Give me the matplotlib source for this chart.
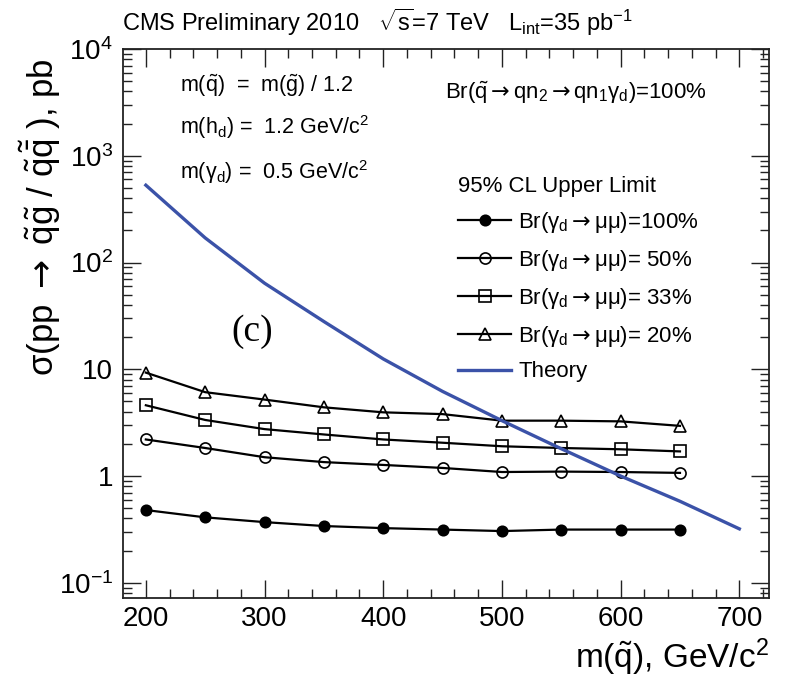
import matplotlib
matplotlib.use("Agg")
import matplotlib.pyplot as plt
from matplotlib.ticker import FixedLocator, MultipleLocator, NullFormatter
import numpy as np

# ---------------- data ----------------
mass = [200, 250, 300, 350, 400, 450, 500, 550, 600, 650]
br100 = [0.48, 0.41, 0.37, 0.34, 0.325, 0.315, 0.305, 0.315, 0.315, 0.315]
br50 = [2.2, 1.83, 1.5, 1.35, 1.27, 1.19, 1.09, 1.1, 1.09, 1.07]
br33 = [4.6, 3.35, 2.75, 2.45, 2.2, 2.05, 1.9, 1.83, 1.78, 1.7]
br20 = [9.3, 6.1, 5.2, 4.4, 3.95, 3.8, 3.3, 3.3, 3.25, 2.95]
theory_mass = [200, 250, 300, 350, 400, 450, 500, 550, 600, 650, 700]
theory_xsec = [530, 170, 64, 28, 12.5, 6.2, 3.3, 1.8, 1.0, 0.58, 0.32]

ytick_vals = [0.1, 1, 10, 100, 1000, 10000]
ytick_labels = [r'10$^{{-}1}$', '1', '10', r'10$^{2}$', r'10$^{3}$', r'10$^{4}$']
xtick_vals = [200, 300, 400, 500, 600, 700]

ARROW = r'$\mathsf{\rightarrow}$'
series = [
    (br100, 'o', 'black', 'Br(γ$_{\\rm d}$' + ARROW + 'μμ)=100%'),
    (br50, 'o', 'none', 'Br(γ$_{\\rm d}$' + ARROW + 'μμ)= 50%'),
    (br33, 's', 'none', 'Br(γ$_{\\rm d}$' + ARROW + 'μμ)= 33%'),
    (br20, '^', 'none', 'Br(γ$_{\\rm d}$' + ARROW + 'μμ)= 20%'),
]

# ---------------- style ----------------
FONT = ['Liberation Sans', 'DejaVu Sans']
plt.rcParams['font.family'] = FONT
plt.rcParams['mathtext.fontset'] = 'custom'
plt.rcParams['mathtext.rm'] = FONT[0]
plt.rcParams['mathtext.it'] = FONT[0]
plt.rcParams['mathtext.bf'] = FONT[0]
plt.rcParams['mathtext.sf'] = 'DejaVu Sans'

fig = plt.figure(figsize=(7.85, 6.79), dpi=100)
L, R, B, T = 122.7 / 785, 769 / 785, 1 - 598 / 679, 1 - 49 / 679
ax = fig.add_axes([L, B, R - L, T - B])

for vals, mk, fc, lab in series:
    ax.plot(mass, vals, color='black', lw=1.6, marker=mk,
            markersize=7.5 if (mk == 'o' and fc != 'none') else 8,
            markerfacecolor=fc, markeredgecolor='black', markeredgewidth=1.2, label=lab)
ax.plot(theory_mass, theory_xsec, color='#3b52a8', lw=2.4, label='Theory')

ax.set_yscale('log')
ax.set_xlim(180.5, 725)
ax.set_ylim(0.072, 1.0e4)

ax.xaxis.set_major_locator(FixedLocator(xtick_vals))
ax.xaxis.set_minor_locator(MultipleLocator(20))
ax.yaxis.set_major_locator(FixedLocator(ytick_vals))
ax.set_yticklabels(ytick_labels)
ax.yaxis.set_minor_locator(FixedLocator(
    [m * 10.0 ** e for e in range(-2, 4) for m in range(2, 10)]))
ax.yaxis.set_minor_formatter(NullFormatter())

ax.tick_params(which='both', direction='in', top=True, right=True, width=1.0, colors='#222222')
ax.tick_params(which='major', length=13, labelsize=20, labelcolor='black')
ax.tick_params(axis='x', which='major', pad=6)
ax.tick_params(axis='y', which='major', pad=7)
ax.tick_params(which='minor', length=6.5)
for s in ax.spines.values():
    s.set_linewidth(1.3)
    s.set_color('#222222')

# axis titles
fig.text(769 / 785, 1 - 657 / 679, r'm($\tilde{\rm q}$), GeV/c$^{2}$', ha='right', va='center', fontsize=24)
fig.text(40 / 785, 1 - 58 / 679,
         'σ(pp ' + ARROW + r' $\tilde{\rm q}\tilde{\rm g}$ / $\tilde{\rm q}\tilde{\bar{\rm q}}$ ), pb',
         rotation=90, ha='center', va='top', fontsize=25)

# title
fig.text(122 / 785, 1 - 22 / 679,
         r'CMS Preliminary 2010   $\sqrt{\rm s}$=7 TeV   L$_{\rm int}$=35 pb$^{{-}1}$',
         ha='left', va='center', fontsize=17)

def axfrac(px, py):
    return ((px - 122.7) / 646.3, (598 - py) / 549)

x0, y0 = axfrac(180, 86)
ax.text(x0, y0, r'm($\tilde{\rm q}$)  =  m($\tilde{\rm g}$) / 1.2', transform=ax.transAxes,
        ha='left', va='center', fontsize=15.5)
x0, y0 = axfrac(180, 127)
ax.text(x0, y0, r'm(h$_{\rm d}$) =  1.2 GeV/c$^{2}$', transform=ax.transAxes,
        ha='left', va='center', fontsize=15.5)
x0, y0 = axfrac(180, 172)
ax.text(x0, y0, 'm(γ$_{\\rm d}$) =  0.5 GeV/c$^{2}$', transform=ax.transAxes,
        ha='left', va='center', fontsize=15.5)
x0, y0 = axfrac(445, 93)
ax.text(x0, y0, r'Br($\tilde{\rm q}$' + ARROW + r'qn$_{2}$' + ARROW + r'qn$_{1}$γ$_{\rm d}$)=100%',
        transform=ax.transAxes, ha='left', va='center', fontsize=16)
x0, y0 = axfrac(252, 332)
ax.text(x0, y0, '(c)', transform=ax.transAxes, ha='center', va='center', fontsize=27,
        family=['Liberation Serif', 'DejaVu Serif'])

# legend
x0, y0 = axfrac(458, 176)
leg = ax.legend(loc='upper left', bbox_to_anchor=(x0, y0), frameon=False, fontsize=16,
                title='95% CL Upper Limit', title_fontsize=16, alignment='left',
                handlelength=2.4, handletextpad=0.3, labelspacing=0.58,
                borderpad=0, borderaxespad=0)

fig.savefig('out.png', dpi=100)
